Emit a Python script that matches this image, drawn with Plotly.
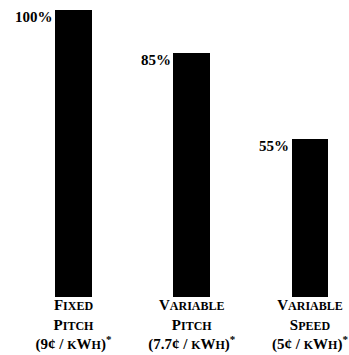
import plotly.graph_objects as go

# Relative cost of energy for three turbine control strategies
categories = ["fixed", "varpitch", "varspeed"]
cost_pct = [100, 85, 55]
pct_labels = ["100%", "85%", "55%"]
names = [("Fixed", "Pitch"), ("Variable", "Pitch"), ("Variable", "Speed")]
cents = ["9", "7.7", "5"]

SMALL = 'style="font-size:12px"'


def sc(word):
    """Render a word in small caps: first letter full size, rest reduced."""
    return word[0] + f"<span {SMALL}>{word[1:].upper()}</span>"


def kwh_line(c):
    return (f"({c}¢ / <span {SMALL}>K</span>W<span {SMALL}>H</span>)"
            '<sup><span style="font-size:11px">*</span></sup>')


tick_text = [f"<b>{sc(a)}<br>{sc(b)}<br>{kwh_line(c)}</b>" for (a, b), c in zip(names, cents)]

serif = "Liberation Serif, Times New Roman, serif"

fig = go.Figure(
    go.Bar(
        x=categories,
        y=cost_pct,
        width=0.31,
        marker=dict(color="black", line=dict(width=0)),
        hoverinfo="skip",
    )
)

for cat, val, lab in zip(categories, cost_pct, pct_labels):
    fig.add_annotation(
        x=cat, y=val, text=f"<b>{lab}</b>",
        xref="x", yref="y",
        xanchor="right", yanchor="middle",
        xshift=-19, yshift=-7,
        showarrow=False,
        font=dict(family=serif, size=15, color="black"),
    )

fig.update_layout(
    width=349, height=355,
    margin=dict(l=0, r=0, t=10, b=58),
    paper_bgcolor="white", plot_bgcolor="white",
    showlegend=False,
    bargap=0,
)
fig.update_xaxes(
    range=[-0.6216, 2.3298],
    tickvals=categories, ticktext=tick_text,
    tickfont=dict(family=serif, size=15, color="black"),
    ticklabelstandoff=-3,
    showline=False, showgrid=False, zeroline=False, ticks="",
    automargin=False,
)
fig.update_yaxes(
    range=[0, 100],
    visible=False, showgrid=False, zeroline=False,
)

fig.write_html("out.html")
